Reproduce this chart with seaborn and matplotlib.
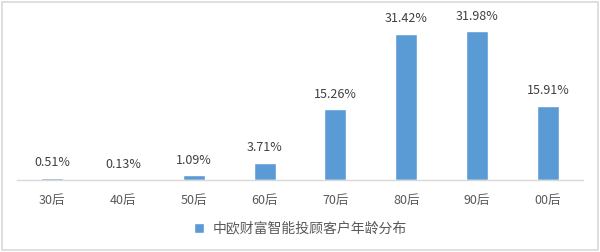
import matplotlib
matplotlib.use("Agg")
import matplotlib.pyplot as plt
from matplotlib.patches import Rectangle
import seaborn as sns
import pandas as pd

categories = ["30后", "40后", "50后", "60后", "70后", "80后", "90后", "00后"]
shares = [0.51, 0.13, 1.09, 3.71, 15.26, 31.42, 31.98, 15.91]
series_name = "中欧财富智能投顾客户年龄分布"

sns.set_theme(style="white")
plt.rcParams["font.family"] = ["Noto Sans CJK SC", "DejaVu Sans"]

df = pd.DataFrame({"age": categories, "share": shares, "series": series_name})

fig = plt.figure(figsize=(6.0, 2.52), dpi=100)
ax = fig.add_axes([0.028, 0.286, 0.944, 0.647])

bar_color = "#5b9bd5"
sns.barplot(data=df, x="age", y="share", hue="series", palette=[bar_color],
            width=0.31, ax=ax, saturation=1.0)

ax.set_xlim(-0.5, len(categories) - 0.5)
ax.set_ylim(0, 35)
ax.set_xlabel("")
ax.set_ylabel("")
ax.set_yticks([])
for side in ["top", "right", "left"]:
    ax.spines[side].set_visible(False)
ax.spines["bottom"].set_color("#d9d9d9")
ax.spines["bottom"].set_linewidth(1.0)
ax.tick_params(axis="x", length=0, pad=10, labelsize=9, labelcolor="#595959")

for i, v in enumerate(shares):
    ax.annotate(f"{v:.2f}%", (i, v), xytext=(0, 6), textcoords="offset points",
                ha="center", va="bottom", fontsize=9, color="#404040")

leg = ax.legend(loc="center", bbox_to_anchor=(0.5, -0.30), frameon=False,
                fontsize=10, handlelength=0.75, handleheight=0.75, handletextpad=0.6)
for t in leg.get_texts():
    t.set_color("#595959")

fig.patches.append(Rectangle((0.004, 0.008), 0.992, 0.984, transform=fig.transFigure,
                             fill=False, edgecolor="#d9d9d9", linewidth=1.2))

fig.savefig("out.png", dpi=100, facecolor="white")
